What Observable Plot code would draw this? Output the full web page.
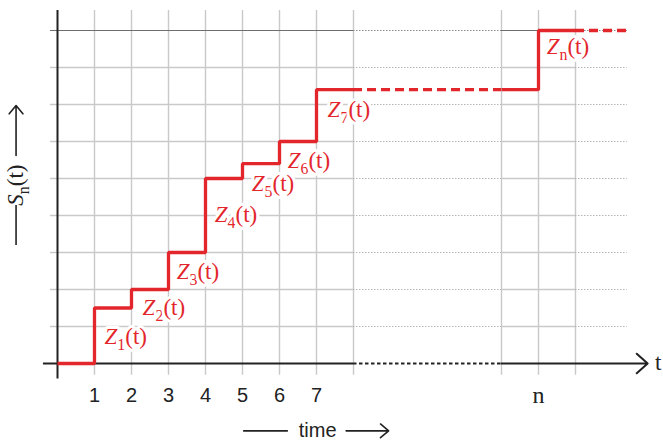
<!DOCTYPE html>
<html><head><meta charset="utf-8">
<script src="https://cdn.jsdelivr.net/npm/d3@7"></script>
<script src="https://cdn.jsdelivr.net/npm/@observablehq/plot@0.6"></script>
<style>html,body{margin:0;padding:0;background:#fff}svg{display:block}</style>
</head><body><div id="chart"></div>
<script>
// ---- data ----
const stepTimes  = [0, 1, 2, 3, 4, 5, 6, 7, 8];
const stepLevels = [0, 1.5, 2, 3, 5, 5.4, 6, 7.4, 7.4];
const gapTimes   = [8, 12];            // dashed continuation of Z7 level
const lateTimes  = [12, 13, 14];
const lateLevels = [7.4, 9, 9];
const tailTimes  = [14, 15.4];         // dashed tail after Zn
const labelSubs  = ["1", "2", "3", "4", "5", "6", "7", "n"];
const labelX     = [1.27, 2.30, 3.22, 4.25, 5.25, 6.22, 7.30, 13.22];
const labelY     = [0.72, 1.50, 2.47, 4.02, 4.86, 5.48, 6.86, 8.56];
const tickPos    = [1, 2, 3, 4, 5, 6, 7];
const tickLabels = ["1", "2", "3", "4", "5", "6", "7"];
const nTickPos   = 13;
const nTickLabel = "n";
const gridX      = [1, 2, 3, 4, 5, 6, 7, 8, 12, 13, 14];
const gridY      = [1, 2, 3, 4, 5, 6, 7, 8];
const topGridY   = 9;

const RED = "#e3262b";
const GRID = "#c9c9c9";

const step = stepTimes.map((t, i) => ({t, s: stepLevels[i]}));
const late = lateTimes.map((t, i) => ({t, s: lateLevels[i]}));
const labels = labelSubs.map((s, i) => ({sub: s, x: labelX[i], y: labelY[i]}));
const ticks = tickPos.map((p, i) => ({p, label: tickLabels[i]}));

const one = [{}];
const lowY = -0.32, highY = 9.54, leftX = -0.19;
const gapA = gapTimes[0], gapB = gapTimes[1];
const farX = 15.4;
const timeY = -1.82;

const svg = Plot.plot({
  width: 663, height: 442,
  x: {domain: [0, 16], range: [57, 649], axis: null},
  y: {domain: [0, 9], range: [363, 30], axis: null},
  style: {background: "white"},
  marks: [
    // vertical grid
    Plot.ruleX(gridX, {y1: lowY, y2: highY, stroke: GRID, strokeWidth: 1.4}),
    // horizontal grid: solid / dotted / solid / dotted
    Plot.ruleY(gridY, {x1: leftX, x2: gapA, stroke: GRID, strokeWidth: 1.3}),
    Plot.ruleY(gridY, {x1: gapA, x2: gapB, stroke: "#b5b5b5", strokeWidth: 1, strokeDasharray: "1.5,1.5"}),
    Plot.ruleY(gridY, {x1: gapB, x2: lateTimes[2], stroke: GRID, strokeWidth: 1.3}),
    Plot.ruleY(gridY, {x1: lateTimes[2], x2: farX, stroke: "#b5b5b5", strokeWidth: 1, strokeDasharray: "1.5,1.5"}),
    Plot.ruleY([topGridY], {x1: leftX, x2: gapA, stroke: "#6e6e6e", strokeWidth: 1.1}),
    Plot.ruleY([topGridY], {x1: gapA, x2: gapB, stroke: "#8a8a8a", strokeWidth: 1, strokeDasharray: "1.5,1.5"}),
    Plot.ruleY([topGridY], {x1: gapB, x2: lateTimes[2], stroke: "#6e6e6e", strokeWidth: 1.1}),
    Plot.ruleY([topGridY], {x1: lateTimes[2], x2: farX, stroke: "#8a8a8a", strokeWidth: 1, strokeDasharray: "1.5,1.5"}),
    // axes
    Plot.ruleX([0], {y1: -0.42, y2: highY, stroke: "#222", strokeWidth: 2}),
    Plot.ruleY([0], {x1: -0.38, x2: gapA, stroke: "#222", strokeWidth: 2}),
    Plot.ruleY([0], {x1: gapA, x2: gapB, stroke: "#222", strokeWidth: 2, strokeDasharray: "3.5,2.5"}),
    Plot.arrow(one, {x1: gapB, x2: 15.95, y1: 0, y2: 0, stroke: "#222", strokeWidth: 2, headLength: 11, headAngle: 84}),
    // red step function
    Plot.line(step, {x: "t", y: "s", curve: "step-after", stroke: RED, strokeWidth: 3.3, strokeLinejoin: "miter", strokeLinecap: "butt"}),
    Plot.ruleY([stepLevels[stepLevels.length - 1]], {x1: gapA, x2: gapB, stroke: RED, strokeWidth: 3.3, strokeDasharray: "9,5"}),
    Plot.line(late, {x: "t", y: "s", curve: "step-after", stroke: RED, strokeWidth: 3.3, strokeLinejoin: "miter", strokeLinecap: "butt"}),
    Plot.ruleY([lateLevels[lateLevels.length - 1]], {x1: tailTimes[0], x2: tailTimes[1], stroke: RED, strokeWidth: 3.3, strokeDasharray: "9,5"}),
    // Z labels
    Plot.text(labels, {x: "x", y: "y", text: d => "Z" + d.sub + "(t)", textAnchor: "start",
      fill: RED, stroke: "white", strokeWidth: 6, fontSize: 23, fontFamily: "Liberation Serif"}),
    // tick labels
    Plot.text(ticks, {x: "p", y: -0.87, text: "label", fill: "#222", fontSize: 20, fontFamily: "Liberation Sans"}),
    Plot.text([nTickLabel], {x: nTickPos, y: -0.87, text: d => d, fill: "#222", fontSize: 24, fontFamily: "Liberation Serif"}),
    // t at end of axis
    Plot.text(["t"], {x: 16.15, y: 0.02, text: d => d, textAnchor: "start", fill: "#222", fontSize: 23, fontFamily: "Liberation Serif"}),
    // time label
    Plot.text(["time"], {x: 7.03, y: timeY, text: d => d, fill: "#222", fontSize: 20, fontFamily: "Liberation Sans"}),
    Plot.ruleY([timeY], {x1: 5.03, x2: 6.24, stroke: "#222", strokeWidth: 1.6}),
    Plot.arrow(one, {x1: 7.8, x2: 8.95, y1: timeY, y2: timeY, stroke: "#222", strokeWidth: 1.6, headLength: 10, headAngle: 80}),
    // y label
    Plot.text(["SY"], {x: -1.12, y: 4.82, text: d => d, rotate: -90, fill: "#222", fontSize: 23, fontFamily: "Liberation Serif"}),
    Plot.ruleX([-1.12], {y1: 3.19, y2: 4.27, stroke: "#222", strokeWidth: 1.6}),
    Plot.arrow(one, {x1: -1.12, x2: -1.12, y1: 5.62, y2: 6.97, stroke: "#222", strokeWidth: 1.6, headLength: 10, headAngle: 80})
  ]
});

// rich text: italic letter + subscript
d3.select(svg).selectAll("text").each(function() {
  const t = this.textContent;
  let m = /^Z(.+)\(t\)$/.exec(t);
  if (m) {
    this.innerHTML = `<tspan font-style="italic">Z</tspan><tspan font-size="16" dy="6">${m[1]}</tspan><tspan dy="-6">(t)</tspan>`;
  } else if (t === "SY") {
    this.innerHTML = `<tspan font-style="italic">S</tspan><tspan font-size="16" dy="6">n</tspan><tspan dy="-6">(t)</tspan>`;
  }
});

document.getElementById("chart").appendChild(svg);
</script>
</body></html>
